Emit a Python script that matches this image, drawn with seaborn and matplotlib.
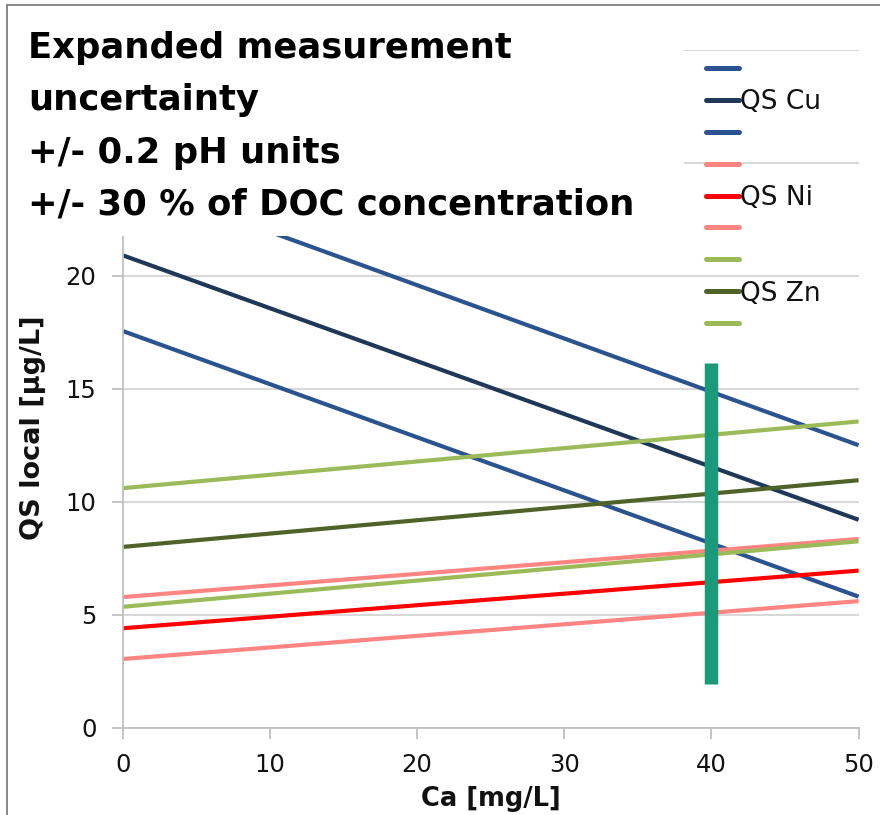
import matplotlib
matplotlib.use("Agg")
import matplotlib.pyplot as plt
from matplotlib.lines import Line2D
from matplotlib.patches import Rectangle
import seaborn as sns
import pandas as pd

# ---------------- data ----------------
ca = [0, 50]
cu_upper = [24.3, 12.5]
cu_mid = [20.9, 9.2]
cu_lower = [17.55, 5.8]
ni_upper = [5.78, 8.35]
ni_mid = [4.4, 6.95]
ni_lower = [3.04, 5.6]
zn_upper = [10.6, 13.55]
zn_mid = [8.0, 10.95]
zn_lower = [5.35, 8.25]

series_names = ["Cu upper", "QS Cu", "Cu lower",
                "Ni upper", "QS Ni", "Ni lower",
                "Zn upper", "QS Zn", "Zn lower"]
series_values = [cu_upper, cu_mid, cu_lower,
                 ni_upper, ni_mid, ni_lower,
                 zn_upper, zn_mid, zn_lower]
legend_labels = ["", "QS Cu", "", "", "QS Ni", "", "", "QS Zn", ""]
series_colors = ["#2b5390", "#1f3858", "#2b5390",
                 "#ff8582", "#ff0000", "#ff8582",
                 "#9bbb59", "#4f6228", "#9bbb59"]

marker_x = 40
marker_lo = 1.95
marker_hi = 16.15

x_ticks = [0, 10, 20, 30, 40, 50]
x_tick_labels = ["0", "10", "20", "30", "40", "50"]
y_ticks = [0, 5, 10, 15, 20, 25, 30]
y_tick_labels = ["0", "5", "10", "15", "20", "", ""]  # 25 and 30 hidden by title box

title_lines = ["Expanded measurement", "uncertainty", "+/- 0.2 pH units",
               "+/- 30 % of DOC concentration"]

rows = []
for name, vals in zip(series_names, series_values):
    for x, y in zip(ca, vals):
        rows.append({"Ca": x, "QS": y, "series": name})
df = pd.DataFrame(rows)

# ---------------- style ----------------
sns.set_theme(style="white")
plt.rcParams["font.family"] = ["DejaVu Sans"]

W, H = 880, 815
fig = plt.figure(figsize=(W / 100, H / 100), dpi=100)
x0, x1 = 122.9, 858.6
y0, y1 = 727.7, 49.7
ax = fig.add_axes([x0 / W, 1 - y0 / H, (x1 - x0) / W, (y0 - y1) / H])

sns.lineplot(data=df, x="Ca", y="QS", hue="series", hue_order=series_names,
             palette=dict(zip(series_names, series_colors)),
             linewidth=3.0, legend=False, ax=ax, sort=False)
for ln in ax.lines:
    ln.set_solid_capstyle("butt")

ax.vlines(marker_x, marker_lo, marker_hi, color="#1a9a7a", lw=9.7, zorder=6)

ax.set_xlim(0, 50)
ax.set_ylim(0, 30)
ax.set_xticks(x_ticks)
ax.set_xticklabels(x_tick_labels)
ax.set_yticks(y_ticks)
ax.set_yticklabels(y_tick_labels)
ax.yaxis.grid(True, color="#d9d9d9", lw=1.5)
ax.xaxis.grid(False)
ax.set_axisbelow(True)
for s in ["top", "right"]:
    ax.spines[s].set_visible(False)
for s in ["left", "bottom"]:
    ax.spines[s].set_color("#bfbfbf")
    ax.spines[s].set_linewidth(1.3)
ax.tick_params(axis="both", which="major", length=8, width=1.3,
               color="#bfbfbf", labelsize=17.5, labelcolor="#111111",
               bottom=True, left=True, direction="out")
ax.tick_params(axis="x", pad=10)
ax.tick_params(axis="y", pad=11)

ax.set_xlabel("Ca [mg/L]", fontsize=18.5, fontweight="bold", color="#111111",
              va="center")
ax.set_ylabel("QS local [µg/L]", fontsize=19.5, fontweight="bold", color="#111111",
              va="center")
ax.xaxis.set_label_coords(0.5, (y0 - 799) / (y0 - y1))
ax.yaxis.set_label_coords((33.4 - x0) / (x1 - x0), (y0 - 428) / (y0 - y1))

handles = [Line2D([0], [0], color=c, lw=3.6, solid_capstyle="round")
           for c in series_colors]
leg = ax.legend(handles, legend_labels, loc="upper left",
                bbox_to_anchor=(706 / W, 1 - 57 / H),
                bbox_transform=fig.transFigure, frameon=False,
                fontsize=19, handlelength=1.25, handletextpad=0.04,
                labelspacing=0.225, borderpad=0, borderaxespad=0)
for t in leg.get_texts():
    t.set_color("#111111")

# white title box covering the upper-left part of the chart
fig.patches.append(Rectangle((0, 1 - 236 / H), 684 / W, 236 / H,
                             transform=fig.transFigure, facecolor="white",
                             edgecolor="none", zorder=5))
baselines = [58, 110, 163, 215]
for line, yb in zip(title_lines, baselines):
    fig.text(28 / W, 1 - yb / H, line, fontsize=25.5, fontweight="bold",
             ha="left", va="baseline", color="black", zorder=6)

# slide frame
fig.add_artist(Line2D([7 / W, 7 / W], [0, 1 - 5 / H], transform=fig.transFigure,
                      color="#808080", lw=1.3, zorder=10))
fig.add_artist(Line2D([7 / W, 1], [1 - 5 / H, 1 - 5 / H], transform=fig.transFigure,
                      color="#808080", lw=1.3, zorder=10))

fig.savefig("out.png", dpi=100)
